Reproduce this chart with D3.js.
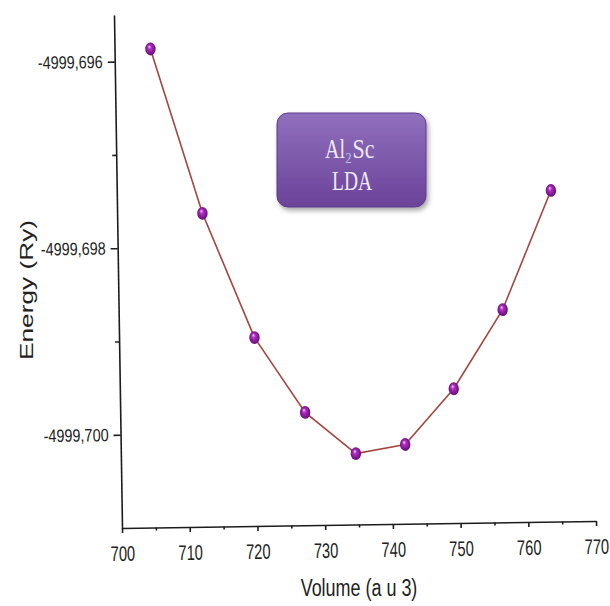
<!DOCTYPE html>
<html>
<head>
<meta charset="utf-8">
<script src="https://cdn.jsdelivr.net/npm/d3@7"></script>
<style>
  body { margin: 0; background: #fff; }
  text { font-family: "Liberation Sans", Arial, sans-serif; }
</style>
</head>
<body>
<svg id="chart"></svg>
<script>
// volume (a.u.^3) and total energy (Ry)
const volumes  = [705.3, 712.6, 720.0, 727.3, 734.7, 742.0, 749.3, 756.7, 764.1];
const energies = [-4999.69587, -4999.69764, -4999.69898, -4999.69979, -4999.70024,
                  -4999.70015, -4999.69956, -4999.69872, -4999.69745];
const xTicks = [700, 710, 720, 730, 740, 750, 760, 770];
const xMinorTicks = [705, 715, 725, 735, 745, 755, 765];
const yTicks = [-4999.696, -4999.698, -4999.700];
const yMinorTicks = [-4999.697, -4999.699];

const width = 610, height = 606;
// the figure is photographed slightly askew, so the plot frame is sheared
const inner_width = 474, inner_height = 513;
const origin = {x: 114, y: 15};
const shear_x = 8 / 513, shear_y = -7 / 474;

const svg = d3.select('#chart')
    .attr('width', width)
    .attr('height', height);

const defs = svg.append('defs');

const ball = defs.append('radialGradient')
    .attr('id', 'ball')
    .attr('cx', '50%').attr('cy', '50%').attr('r', '55%')
    .attr('fx', '38%').attr('fy', '30%');
ball.append('stop').attr('offset', '0%').attr('stop-color', '#f6d8fa');
ball.append('stop').attr('offset', '30%').attr('stop-color', '#b030c0');
ball.append('stop').attr('offset', '100%').attr('stop-color', '#5e0672');

const boxFill = defs.append('linearGradient')
    .attr('id', 'boxfill')
    .attr('x1', 0).attr('y1', 0).attr('x2', 0).attr('y2', 1);
boxFill.append('stop').attr('offset', '0%').attr('stop-color', '#9070bd');
boxFill.append('stop').attr('offset', '100%').attr('stop-color', '#6b4399');

const shadow = defs.append('filter')
    .attr('id', 'shadow')
    .attr('x', '-20%').attr('y', '-20%').attr('width', '150%').attr('height', '150%');
shadow.append('feDropShadow')
    .attr('dx', 2).attr('dy', 3).attr('stdDeviation', 2.5)
    .attr('flood-color', '#000').attr('flood-opacity', 0.35);

// squeeze text horizontally: the picture is stretched vertically
function squeeze(sel, ratio) {
    sel.each(function() {
        const len = this.getComputedTextLength();
        d3.select(this)
            .attr('textLength', len * ratio)
            .attr('lengthAdjust', 'spacingAndGlyphs');
    });
}

const chart = svg.append('g')
    .attr('transform', `matrix(1, ${shear_y}, ${shear_x}, 1, ${origin.x}, ${origin.y})`);

const xscale = d3.scaleLinear()
    .domain([700, 770])
    .range([0, inner_width]);

const yscale = d3.scaleLinear()
    .domain([-4999.701, -4999.6955])
    .range([inner_height, 0]);

const commaLocale = d3.formatLocale({decimal: ',', thousands: '', grouping: [3], currency: ['', ''], minus: '-'});
const yformat = commaLocale.format('.3f');

const xaxis = d3.axisBottom(xscale)
    .tickValues(xTicks)
    .tickSize(5)
    .tickSizeOuter(0)
    .tickPadding(13)
    .tickFormat(d3.format('d'));

const xminor = d3.axisBottom(xscale)
    .tickValues(xMinorTicks)
    .tickSize(3)
    .tickFormat('');

const yaxis = d3.axisLeft(yscale)
    .tickValues(yTicks)
    .tickSize(7)
    .tickSizeOuter(0)
    .tickPadding(5)
    .tickFormat(yformat);

const yminor = d3.axisLeft(yscale)
    .tickValues(yMinorTicks)
    .tickSize(4)
    .tickFormat('');

const xaxis_group = chart.append('g')
    .attr('transform', `translate(0, ${inner_height})`)
    .call(xaxis);
chart.append('g')
    .attr('transform', `translate(0, ${inner_height})`)
    .call(xminor)
    .select('.domain').remove();

const yaxis_group = chart.append('g').call(yaxis);
chart.append('g').call(yminor).select('.domain').remove();

chart.selectAll('.domain, .tick line')
    .attr('stroke', '#1c1c1c')
    .attr('stroke-width', 1.6);

xaxis_group.selectAll('text')
    .style('font-size', '21px')
    .attr('fill', '#222')
    .call(squeeze, 0.7);

yaxis_group.selectAll('text')
    .style('font-size', '18px')
    .attr('fill', '#222')
    .call(squeeze, 0.8);

// data line
const points = volumes.map((v, i) => ({x: v, y: energies[i]}));

const line = d3.line()
    .x(d => xscale(d.x))
    .y(d => yscale(d.y));

chart.append('path')
    .attr('d', line(points))
    .attr('fill', 'none')
    .attr('stroke', '#a4463f')
    .attr('stroke-width', 1.6);

chart.selectAll('ellipse.pt')
    .data(points)
    .join('ellipse')
    .attr('class', 'pt')
    .attr('cx', d => xscale(d.x))
    .attr('cy', d => yscale(d.y))
    .attr('rx', 5.2)
    .attr('ry', 6.4)
    .attr('fill', 'url(#ball)');

// axis titles
svg.append('text')
    .attr('x', 359)
    .attr('y', 596)
    .attr('text-anchor', 'middle')
    .style('font-size', '23px')
    .attr('fill', '#222')
    .text('Volume (a u 3)')
    .call(squeeze, 0.78);

svg.append('text')
    .attr('transform', 'translate(33, 290) rotate(-90)')
    .attr('text-anchor', 'middle')
    .style('font-size', '19px')
    .attr('fill', '#222')
    .text('Energy (Ry)')
    .attr('textLength', 140)
    .attr('lengthAdjust', 'spacingAndGlyphs');

// label box
const box = svg.append('g');
box.append('rect')
    .attr('x', 277).attr('y', 113)
    .attr('width', 149).attr('height', 94)
    .attr('rx', 11)
    .attr('fill', 'url(#boxfill)')
    .attr('stroke', '#5d3a88')
    .attr('stroke-width', 1)
    .attr('filter', 'url(#shadow)');

const serif = '"Liberation Serif", "Times New Roman", serif';
const boxText = '#efe9f6';

// formula pieces side by side, subscript lowered
box.append('text')
    .attr('x', 325).attr('y', 158)
    .style('font-family', serif)
    .style('font-size', '27px')
    .attr('fill', boxText)
    .text('Al')
    .attr('textLength', 20)
    .attr('lengthAdjust', 'spacingAndGlyphs');

box.append('text')
    .attr('x', 345.5).attr('y', 163)
    .style('font-family', serif)
    .style('font-size', '14px')
    .attr('fill', '#b8c8ea')
    .text('2')
    .attr('textLength', 6)
    .attr('lengthAdjust', 'spacingAndGlyphs');

box.append('text')
    .attr('x', 352.5).attr('y', 158)
    .style('font-family', serif)
    .style('font-size', '27px')
    .attr('fill', boxText)
    .text('Sc')
    .attr('textLength', 22)
    .attr('lengthAdjust', 'spacingAndGlyphs');

box.append('text')
    .attr('x', 352).attr('y', 190)
    .attr('text-anchor', 'middle')
    .style('font-family', serif)
    .style('font-size', '27px')
    .attr('fill', boxText)
    .text('LDA')
    .attr('textLength', 40)
    .attr('lengthAdjust', 'spacingAndGlyphs');
</script>
</body>
</html>
